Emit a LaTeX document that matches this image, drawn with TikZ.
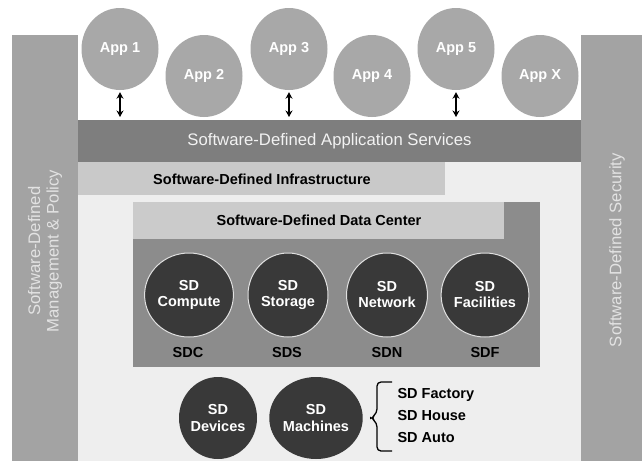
\documentclass[tikz,border=0pt]{standalone}
\usepackage{fontspec}
\setmainfont{Liberation Sans}
\usetikzlibrary{shapes.geometric,arrows.meta}
\definecolor{colgray}{HTML}{A3A3A3}
\definecolor{appgray}{HTML}{A8A8A8}
\definecolor{sdasgray}{HTML}{7E7E7E}
\definecolor{sdigray}{HTML}{C9C9C9}
\definecolor{bggray}{HTML}{EEEEEE}
\definecolor{dcbox}{HTML}{8C8C8C}
\definecolor{dctitle}{HTML}{CBCBCB}
\definecolor{darkc}{HTML}{393939}
\definecolor{coltext}{HTML}{E2E2E2}
\tikzset{
  regtext/.style={font=\fontsize{16.7}{18.5}\selectfont},
  boldtext/.style={font=\fontsize{14.5}{16}\selectfont\bfseries},
  plainbox/.style={inner sep=0pt, outer sep=0pt, draw=none},
  appc/.style={ellipse, fill=appgray, minimum width=77pt, minimum height=82pt, inner sep=0pt,
     text=white, boldtext},
  sdc/.style={ellipse, fill=darkc, draw=white!88!black, line width=1pt, minimum width=80pt,
     minimum height=84pt, inner sep=0pt, text=white, align=center, boldtext},
  sdb/.style={ellipse, fill=darkc, minimum width=78pt, minimum height=82pt, inner sep=0pt,
     text=white, align=center, font=\fontsize{14.5}{17}\selectfont\bfseries},
  dbl/.style={{Stealth[length=6.5pt,width=7pt]}-{Stealth[length=6.5pt,width=7pt]}, line width=1.8pt, black},
  bracestyle/.style={line width=1.3pt, black},
}
\begin{document}
\begin{tikzpicture}[x=1pt,y=-1pt]
\useasboundingbox (0,0) rectangle (642,461);
\fill[white] (0,0) rectangle (642,461);
% light background between columns
\fill[bggray] (78,162) rectangle (581,461);
% side columns
\node[plainbox, fill=colgray, minimum width=66pt, minimum height=426pt] (leftcol) at (45,248) {};
\node[plainbox, fill=colgray, minimum width=61pt, minimum height=426pt] (rightcol) at (611.5,248) {};
\node[regtext, text=coltext, rotate=90, align=center] (leftlab) at (45,251)
  {Software-Defined\\Management \& Policy};
\node[regtext, text=coltext, rotate=90] (rightlab) at (617,250) {Software-Defined Security};
% application services bar
\node[plainbox, fill=sdasgray, minimum width=503pt, minimum height=42pt, regtext, text=white!95!black]
  (sdas) at (329.5,141) {Software-Defined Application Services};
% infrastructure bar
\node[plainbox, fill=sdigray, minimum width=367pt, minimum height=33pt] (sdi) at (261.5,178.5) {};
\node[boldtext] (sdilab) at (262,179) {Software-Defined Infrastructure};
% data center box
\node[plainbox, fill=dcbox, minimum width=407pt, minimum height=165pt] (sddc) at (336.5,284.5) {};
\node[plainbox, fill=dctitle, minimum width=371pt, minimum height=37pt] (dctitlebar) at (318.5,220.5) {};
\node[boldtext] (dclab) at (319,220) {Software-Defined Data Center};
% apps
\node[appc] (app1) at (120,49) {App 1};
\node[appc] (app2) at (204,76) {App 2};
\node[appc] (app3) at (289,49) {App 3};
\node[appc] (app4) at (372,76) {App 4};
\node[appc] (app5) at (456,49) {App 5};
\node[appc] (appx) at (540,76) {App X};
\draw[dbl, shorten <=2pt, shorten >=3pt] (app1.south) -- (app1.south |- sdas.north);
\draw[dbl, shorten <=2pt, shorten >=3pt] (app3.south) -- (app3.south |- sdas.north);
\draw[dbl, shorten <=2pt, shorten >=3pt] (app5.south) -- (app5.south |- sdas.north);
% SD circles
\node[sdc] (comp) at (189,295) {SD\\Compute};
\node[sdc] (stor) at (288,295) {SD\\Storage};
\node[sdc] (netw) at (387,295) {SD\\Network};
\node[sdc] (faci) at (485,295) {SD\\Facilities};
\node[boldtext] (sdclab) at (188,353) {SDC};
\node[boldtext] (sdslab) at (287,353) {SDS};
\node[boldtext] (sdnlab) at (387,353) {SDN};
\node[boldtext] (sdflab) at (485,353) {SDF};
% bottom circles
\node[sdb] (dev) at (218,418) {SD\\Devices};
\node[sdb] (mach) at (316,418) {SD\\Machines};
% brace and list
\coordinate (bmid) at (371,418);
\draw[bracestyle, shorten <=7pt] (mach.east) -- (bmid);
\draw[bracestyle, rounded corners=4pt] (392,382) -- (377,382) -- (377,413) -- (bmid)
  -- (377,423) -- (377,451) -- (392,451);
\node[boldtext, anchor=west] (fac) at (394,395) {SD Factory};
\node[boldtext, anchor=west] (hou) at (394,416) {SD House};
\node[boldtext, anchor=west] (aut) at (394,437) {SD Auto};
\end{tikzpicture}
\end{document}
